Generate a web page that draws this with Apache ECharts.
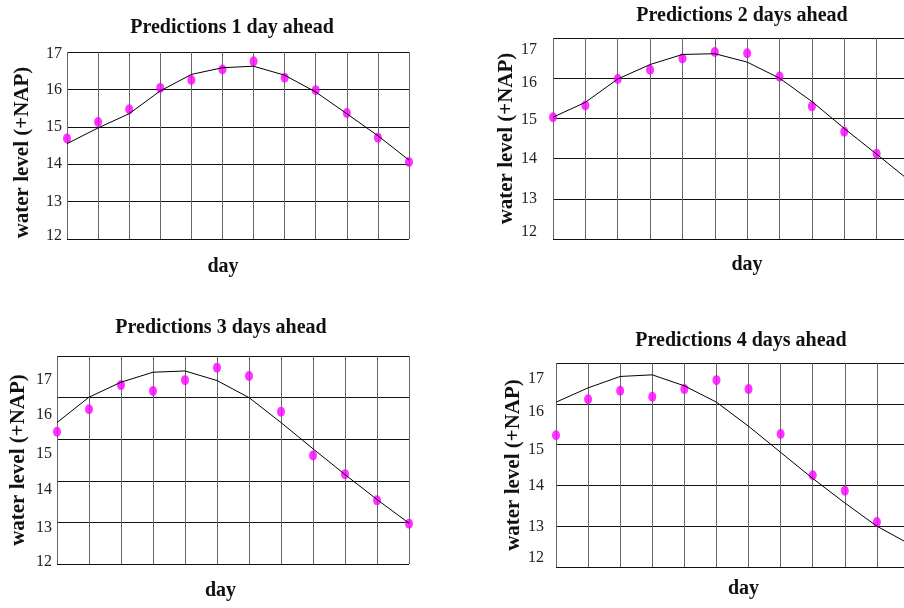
<!DOCTYPE html>
<html>
<head>
<meta charset="utf-8">
<title>Predictions</title>
<script src="https://cdn.jsdelivr.net/npm/echarts@6/dist/echarts.min.js"></script>
<style>
  html, body { margin: 0; padding: 0; background: #fff; }
  #main { width: 904px; height: 608px; }
</style>
</head>
<body>
<div id="main"></div>
<script>
// days on the x axis (no labels shown)
const days = ['1', '2', '3', '4', '5', '6', '7', '8', '9', '10', '11', '12'];
const yTicks = [12, 13, 14, 15, 16, 17];

// observed water level (black line) and predictions (magenta dots)
const observed1 = [14.55, 14.97, 15.35, 15.96, 16.40, 16.58, 16.62, 16.38, 15.93, 15.35, 14.76, 14.11];
const predicted1 = [14.69, 15.13, 15.47, 16.04, 16.25, 16.53, 16.75, 16.31, 15.98, 15.37, 14.71, 14.06];
const observed2 = [15.03, 15.40, 15.98, 16.34, 16.59, 16.61, 16.40, 16.00, 15.42, 14.75, 14.11, 13.46];
const predicted2 = [15.03, 15.32, 15.98, 16.21, 16.49, 16.65, 16.62, 16.04, 15.30, 14.67, 14.12, null];
const observed3 = [15.40, 16.01, 16.37, 16.61, 16.64, 16.41, 16.00, 15.40, 14.77, 14.15, 13.55, 12.98];
const predicted3 = [15.18, 15.72, 16.30, 16.16, 16.42, 16.72, 16.52, 15.66, 14.61, 14.16, 13.53, 12.97];
const observed4 = [16.04, 16.39, 16.67, 16.71, 16.44, 16.04, 15.45, 14.81, 14.17, 13.57, 13.00, 12.57];
const predicted4 = [15.23, 16.11, 16.32, 16.17, 16.36, 16.58, 16.36, 15.26, 14.25, 13.87, 13.10, null];

const titles = ['Predictions 1 day ahead', 'Predictions 2 days ahead', 'Predictions 3 days ahead', 'Predictions 4 days ahead'];

// where the tick labels sit in the scanned original (they drift off the grid lines)
const labelSpots = [
  [12.08, 13, 14, 15, 16, 16.95],
  [12.18, 13, 14, 14.97, 15.89, 16.71],
  [12.06, 12.86, 13.78, 14.66, 15.58, 16.42],
  [12.22, 12.99, 13.98, 14.87, 15.81, 16.62]
];

// panel layout (px)
const panels = [
  { left: 67, top: 52, width: 342, height: 187, titleX: 227, titleY: 13, labelGap: 5, yNameGap: 34, yNamePad: [0, 14, 0, 0], xNameGap: 18, xNamePad: [0, 30, 0, 0] },
  { left: 553, top: 38, width: 356, height: 201, titleX: 737, titleY: 1, labelGap: 16, yNameGap: 33, yNamePad: 0, xNameGap: 16, xNamePad: [0, 0, 0, 32] },
  { left: 57, top: 356, width: 352, height: 208, titleX: 216, titleY: 313, labelGap: 5, yNameGap: 28, yNamePad: 0, xNameGap: 17, xNamePad: [0, 25, 0, 0] },
  { left: 556, top: 363, width: 353, height: 204, titleX: 736, titleY: 326, labelGap: 12, yNameGap: 26, yNamePad: 0, xNameGap: 12, xNamePad: [0, 0, 0, 22] }
];

const observed = [observed1, observed2, observed3, observed4];
const predicted = [predicted1, predicted2, predicted3, predicted4];

const font = 'Liberation Serif';
let grid = [], xAxis = [], yAxis = [], series = [], title = [];

panels.forEach(function (p, i) {
  grid.push({ left: p.left, top: p.top, width: p.width, height: p.height, outerBoundsMode: 'none', containLabel: false });
  title.push({
    text: titles[i], left: p.titleX, top: p.titleY, textAlign: 'center',
    textStyle: { fontFamily: font, fontWeight: 'bold', fontSize: 20, color: '#111' }
  });
  xAxis.push({
    gridIndex: i, type: 'category', data: days, boundaryGap: false,
    name: 'day', nameLocation: 'middle', nameGap: p.xNameGap,
    nameTextStyle: { fontFamily: font, fontWeight: 'bold', fontSize: 20, color: '#111', padding: p.xNamePad },
    axisLine: { show: false }, axisTick: { show: false }, axisLabel: { show: false },
    splitLine: { show: true, lineStyle: { color: '#666', width: 1 } }
  });
  // data axis: carries the horizontal grid lines
  yAxis.push({
    gridIndex: i, type: 'value', min: 12, max: 17, interval: 1, position: 'right',
    axisLine: { show: false }, axisTick: { show: false }, axisLabel: { show: false },
    splitLine: { show: true, lineStyle: { color: '#111', width: 1 } }
  });
  // label axis: only the tick labels and the axis name
  const spots = labelSpots[i];
  yAxis.push({
    gridIndex: i, type: 'value', min: 12, max: 17, position: 'left',
    name: 'water level (+NAP)', nameLocation: 'middle', nameGap: p.yNameGap,
    nameTextStyle: { fontFamily: font, fontWeight: 'bold', fontSize: 21, color: '#111', padding: p.yNamePad },
    axisLine: { show: false }, axisTick: { show: false }, splitLine: { show: false },
    axisLabel: {
      customValues: spots, margin: p.labelGap,
      fontFamily: font, fontSize: 16, color: '#222',
      formatter: function (v) {
        let k = 0;
        spots.forEach(function (s, j) { if (Math.abs(s - v) < Math.abs(spots[k] - v)) k = j; });
        return String(yTicks[k]);
      }
    }
  });
  series.push({
    type: 'line', xAxisIndex: i, yAxisIndex: i * 2, data: observed[i],
    symbol: 'none', lineStyle: { color: '#000', width: 1 }, silent: true
  });
  series.push({
    type: 'scatter', xAxisIndex: i, yAxisIndex: i * 2, data: predicted[i],
    symbol: 'circle', symbolSize: [8, 10], itemStyle: { color: '#ff00ff' }, silent: true
  });
});

let myChart = echarts.init(document.getElementById('main'));
myChart.setOption({
  backgroundColor: '#fff',
  animation: false,
  title: title,
  grid: grid,
  xAxis: xAxis,
  yAxis: yAxis,
  series: series
});
</script>
</body>
</html>
